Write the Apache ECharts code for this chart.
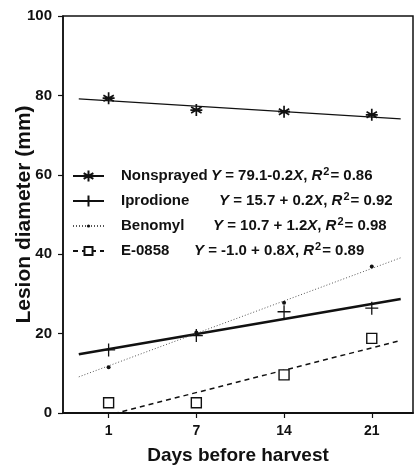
<!DOCTYPE html>
<html>
<head>
<meta charset="utf-8">
<script src="https://cdn.jsdelivr.net/npm/echarts@6/dist/echarts.min.js"></script>
<style>
html, body { margin: 0; padding: 0; background: #fff; }
#chart { width: 416px; height: 466px; }
</style>
</head>
<body>
<div id="chart"></div>
<script>
// days before harvest (drawn evenly spaced, as in the figure)
var days = ['1', '7', '14', '21'];
var yTicks = [0, 20, 40, 60, 80, 100];

var treatments = ['Nonsprayed', 'Iprodione', 'Benomyl', 'E-0858'];

// measured lesion diameters (mm)
var nonsprayed = [79.3, 76.3, 75.9, 75.1];
var iprodione  = [15.9, 19.5, 25.5, 26.4];
var benomyl    = [11.5, 20.3, 27.8, 36.9];
var e0858      = [2.6, 2.6, 9.6, 18.8];

// fitted lines, ends (x in day-slot units)
var fitStartX = [-0.34, -0.34, -0.34, -0.34];
var fitEndX   = [3.33, 3.33, 3.33, 3.30];
var fitStartY = [79.1, 14.8, 9.1, -2.4];
var fitEndY   = [74.1, 28.7, 39.1, 18.1];

// regression text
var eqA  = ['79.1', '15.7', '10.7', '-1.0'];
var eqOp = ['-', ' + ', ' + ', ' + '];
var eqB  = ['0.2', '0.2', '1.2', '0.8'];
var r2   = ['0.86', '0.92', '0.98', '0.89'];

var FONT = '"Liberation Sans", Arial, sans-serif';
var INK = '#111';

var myChart = echarts.init(document.getElementById('chart'));

var ASTER = 'path://M0,-6L0,6M-5.2,-3L5.2,3M-5.2,3L5.2,-3M-6,0L6,0';
var PLUS = 'path://M0,-6L0,6M-6,0L6,0';
// padded versions keep the legend marks small
var DOT_PAD = 'path://M-7,-7M7,7M-2,0A2,2,0,1,1,2,0A2,2,0,1,1,-2,0Z';
var SQ_PAD = 'path://M-6,-6M6,6M-4.3,-4.3L4.3,-4.3L4.3,4.3L-4.3,4.3Z';

var looks = [
	{ point: ASTER, size: 12, legend: ASTER, fill: 'rgba(0,0,0,0)', bw: 1.7,
	  line: { color: INK, width: 1.3, type: 'solid' } },
	{ point: PLUS, size: 13, legend: PLUS, fill: 'rgba(0,0,0,0)', bw: 1.3,
	  line: { color: INK, width: 2.6, type: 'solid' } },
	{ point: 'circle', size: 4, legend: DOT_PAD, fill: INK, bw: 0,
	  line: { color: '#555', width: 1, type: [1, 2] } },
	{ point: 'rect', size: 10, legend: SQ_PAD, fill: '#fff', bw: 1.4,
	  line: { color: INK, width: 1.5, type: [5, 4] } }
];

var pointData = [nonsprayed, iprodione, benomyl, e0858];

function buildSeries() {
	var list = [];
	for (var i = 0; i < treatments.length; i++) {
		var lk = looks[i];
		list.push({
			type: 'line',
			name: treatments[i],
			data: [[fitStartX[i], fitStartY[i]], [fitEndX[i], fitEndY[i]]],
			showSymbol: false,
			symbol: lk.legend,
			symbolSize: lk.size,
			lineStyle: lk.line,
			itemStyle: { color: lk.fill, borderColor: INK, borderWidth: lk.bw },
			silent: true,
			z: 2
		});
	}
	for (var j = 0; j < treatments.length; j++) {
		var pts = [];
		for (var k = 0; k < days.length; k++) {
			pts.push([k, pointData[j][k]]);
		}
		list.push({
			type: 'scatter',
			data: pts,
			symbol: looks[j].point,
			symbolSize: looks[j].size,
			itemStyle: { color: looks[j].fill, borderColor: INK, borderWidth: looks[j].bw, opacity: 1 },
			silent: true,
			z: 3
		});
	}
	return list;
}

function legendText(name) {
	var i = treatments.indexOf(name);
	return '{n' + i + '|' + name + '}{i|Y} = ' + eqA[i] + eqOp[i] + eqB[i] +
		'{i|X}, {i|R}{s|2}= ' + r2[i];
}

var slots = days.map(function (d, i) { return i; });

var chartOption = {
	animation: false,
	grid: {
		left: 63, right: 3, top: 16, bottom: 53,
		outerBoundsMode: 'none',
		containLabel: false,
		show: true, borderColor: INK, borderWidth: 1.5
	},
	legend: {
		data: treatments,
		orient: 'vertical',
		left: 72, top: 166,
		padding: 0,
		itemWidth: 31, itemHeight: 14, itemGap: 7,
		selectedMode: false,
		formatter: legendText,
		textStyle: {
			fontFamily: FONT, fontSize: 15, fontWeight: 'bold', color: INK, lineHeight: 16,
			rich: {
				n0: { width: 90, padding: [0, 0, 0, 12] },
				n1: { width: 98, padding: [0, 0, 0, 12] },
				n2: { width: 92, padding: [0, 0, 0, 12] },
				n3: { width: 73, padding: [0, 0, 0, 12] },
				i: { fontStyle: 'italic' },
				s: { fontSize: 11, padding: [0, 1, 9, 1] }
			}
		}
	},
	xAxis: {
		type: 'value',
		min: -0.52, max: 3.47,
		name: 'Days before harvest',
		nameLocation: 'middle',
		nameGap: 33,
		nameTextStyle: { fontFamily: FONT, fontSize: 19, fontWeight: 'bold', color: INK },
		axisLine: { onZero: false, lineStyle: { color: INK, width: 1.8 } },
		axisTick: { show: true, length: 5, customValues: slots, lineStyle: { color: INK, width: 1.2 } },
		axisLabel: {
			customValues: slots,
			margin: 11,
			fontFamily: FONT, fontSize: 14, fontWeight: 'bold', color: INK,
			formatter: function (v) { return days[Math.round(v)]; }
		},
		splitLine: { show: false }
	},
	yAxis: {
		type: 'value',
		min: 0, max: 100, interval: 20,
		name: 'Lesion diameter (mm)',
		nameLocation: 'middle',
		nameGap: 28,
		nameMoveOverlap: false,
		nameTextStyle: { fontFamily: FONT, fontSize: 21, fontWeight: 'bold', color: INK },
		axisLine: { show: true, onZero: false, lineStyle: { color: INK, width: 1.5 } },
		axisTick: { show: true, length: 5, customValues: yTicks, lineStyle: { color: INK, width: 1.2 } },
		axisLabel: {
			customValues: yTicks,
			margin: 11,
			fontFamily: FONT, fontSize: 15, fontWeight: 'bold', color: INK
		},
		splitLine: { show: false }
	},
	series: buildSeries()
};

myChart.setOption(chartOption);
</script>
</body>
</html>
